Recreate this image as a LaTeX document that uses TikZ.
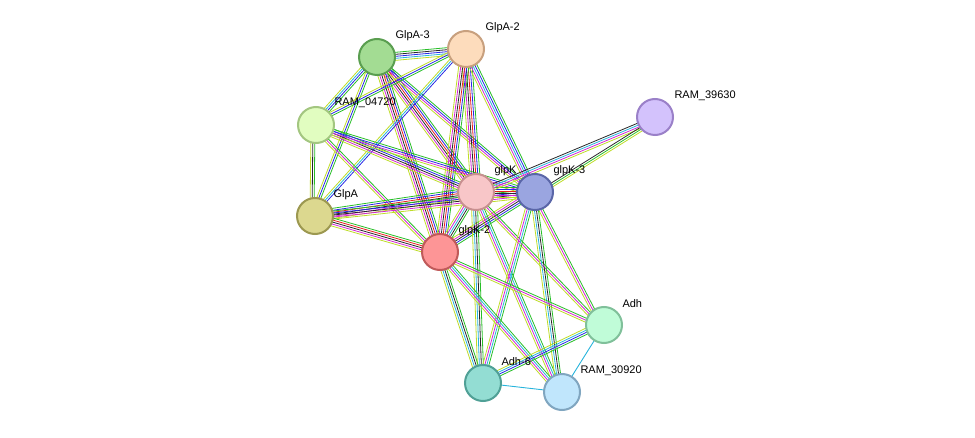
\documentclass[tikz,border=0pt]{standalone}
\usepackage{fontspec}
\setmainfont{Liberation Sans}
\usetikzlibrary{calc}
\definecolor{tm}{RGB}{190,220,40}
\definecolor{ex}{RGB}{210,40,210}
\definecolor{db}{RGB}{40,180,220}
\definecolor{co}{RGB}{40,40,40}
\definecolor{nb}{RGB}{40,190,40}
\definecolor{cc}{RGB}{40,40,230}
\definecolor{fu}{RGB}{230,30,30}
\newcommand{\link}[3]{%
  \foreach \c [count=\i] in {#3}{
    \draw[\c, line width=0.8pt]
      ($(#1)!{(\i-3.5)*2pt}!90:(#2)$) -- ($(#2)!{(\i-3.5)*2pt}!-90:(#1)$);
  }}
\begin{document}
\begin{tikzpicture}[x=1pt, y=-1pt,
    prot/.style={circle, minimum size=36pt, inner sep=0pt, line width=2pt},
    lab/.style={anchor=west, font=\fontsize{11}{13}\selectfont}]
  \useasboundingbox (0,0) rectangle (975,438);
  \coordinate (glpa3) at (377,57);
  \coordinate (glpa2) at (466,49);
  \coordinate (ram04720) at (316,125);
  \coordinate (ram39630) at (655,117);
  \coordinate (glpa) at (315,216);
  \coordinate (glpk) at (476,192);
  \coordinate (glpk3) at (535,192);
  \coordinate (glpk2) at (440,252);
  \coordinate (adh) at (604,325);
  \coordinate (adh6) at (483,383);
  \coordinate (ram30920) at (562,392);
  % edges
  \link{glpa3}{glpa2}{tm,db,cc,co,nb}
  \link{glpa3}{ram04720}{tm,db,cc,nb}
  \link{glpa3}{glpa}{tm,cc,nb}
  \link{glpa3}{glpk}{tm,ex,co,fu,cc,nb}
  \link{glpa3}{glpk3}{tm,ex,cc,nb}
  \link{glpa3}{glpk2}{tm,ex,co,fu,cc,nb}
  \link{glpa2}{ram04720}{tm,cc,nb}
  \link{glpa2}{glpa}{tm,db,cc}
  \link{glpa2}{glpk}{tm,ex,co,fu,cc,nb}
  \link{glpa2}{glpk3}{tm,ex,db,cc,nb}
  \link{glpa2}{glpk2}{tm,ex,co,fu,cc,nb}
  \link{ram04720}{glpa}{tm,co,nb}
  \link{ram04720}{glpk}{tm,ex,co,cc,nb}
  \link{ram04720}{glpk3}{tm,ex,cc,nb}
  \link{ram04720}{glpk2}{tm,ex,nb}
  \link{glpa}{glpk}{tm,ex,co,fu,cc,nb}
  \link{glpa}{glpk3}{tm,ex,co,cc,nb}
  \link{glpa}{glpk2}{tm,ex,co,fu,nb}
  \link{glpk}{glpk3}{tm,ex,co,fu,cc,nb}
  \link{glpk}{glpk2}{tm,ex,db,co,nb}
  \link{glpk}{ram39630}{tm,ex,db,co}
  \link{glpk3}{ram39630}{tm,nb,co}
  \link{glpk3}{glpk2}{tm,ex,co,cc,nb}
  \link{glpk}{adh}{tm,ex,nb}
  \link{glpk}{adh6}{tm,db,co,nb}
  \link{glpk}{ram30920}{tm,ex,db,nb}
  \link{glpk3}{adh}{tm,ex,nb}
  \link{glpk3}{adh6}{tm,ex,db,nb}
  \link{glpk3}{ram30920}{tm,db,co,nb}
  \link{glpk2}{adh}{tm,ex,nb}
  \link{glpk2}{adh6}{tm,db,co,nb}
  \link{glpk2}{ram30920}{tm,ex,db,nb}
  \link{adh}{adh6}{tm,db,cc,nb}
  \draw[db, line width=0.9pt] (adh) -- (ram30920);
  \draw[db, line width=0.9pt] (adh6) -- (ram30920);
  % nodes
  \node[prot, fill={rgb,255:red,163;green,220;blue,147}, draw={rgb,255:red,90;green,158;blue,80}] (n1) at (glpa3) {};
  \node[prot, fill={rgb,255:red,253;green,220;blue,188}, draw={rgb,255:red,200;green,160;blue,126}] (n2) at (glpa2) {};
  \node[prot, fill={rgb,255:red,225;green,253;blue,192}, draw={rgb,255:red,163;green,198;blue,128}] (n3) at (ram04720) {};
  \node[prot, fill={rgb,255:red,211;green,194;blue,252}, draw={rgb,255:red,154;green,128;blue,200}] (n4) at (ram39630) {};
  \node[prot, fill={rgb,255:red,220;green,216;blue,143}, draw={rgb,255:red,156;green,152;blue,80}] (n5) at (glpa) {};
  \node[prot, fill={rgb,255:red,248;green,198;blue,200}, draw={rgb,255:red,200;green,144;blue,144}] (n6) at (glpk) {};
  \node[prot, fill={rgb,255:red,154;green,165;blue,224}, draw={rgb,255:red,90;green,102;blue,168}] (n7) at (glpk3) {};
  \node[prot, fill={rgb,255:red,253;green,149;blue,150}, draw={rgb,255:red,192;green,90;blue,90}] (n8) at (glpk2) {};
  \node[prot, fill={rgb,255:red,192;green,252;blue,216}, draw={rgb,255:red,128;green,192;blue,154}] (n9) at (adh) {};
  \node[prot, fill={rgb,255:red,147;green,221;blue,211}, draw={rgb,255:red,80;green,160;blue,150}] (n10) at (adh6) {};
  \node[prot, fill={rgb,255:red,192;green,230;blue,252}, draw={rgb,255:red,128;green,166;blue,192}] (n11) at (ram30920) {};
  % labels
  \node[lab] (l1) at ($(glpa3)+(15,-21)$) {GlpA-3};
  \node[lab] (l2) at ($(glpa2)+(16,-21)$) {GlpA-2};
  \node[lab] (l3) at ($(ram04720)+(15,-22)$) {RAM\_04720};
  \node[lab] (l4) at ($(ram39630)+(16,-21)$) {RAM\_39630};
  \node[lab] (l5) at ($(glpa)+(15,-21)$) {GlpA};
  \node[lab] (l6) at ($(glpk)+(15,-21)$) {glpK};
  \node[lab] (l7) at ($(glpk3)+(15,-21)$) {glpK-3};
  \node[lab] (l8) at ($(glpk2)+(15,-21)$) {glpK-2};
  \node[lab] (l9) at ($(adh)+(15,-21)$) {Adh};
  \node[lab] (l10) at ($(adh6)+(15,-21)$) {Adh-6};
  \node[lab] (l11) at ($(ram30920)+(15,-21)$) {RAM\_30920};
\end{tikzpicture}
\end{document}
